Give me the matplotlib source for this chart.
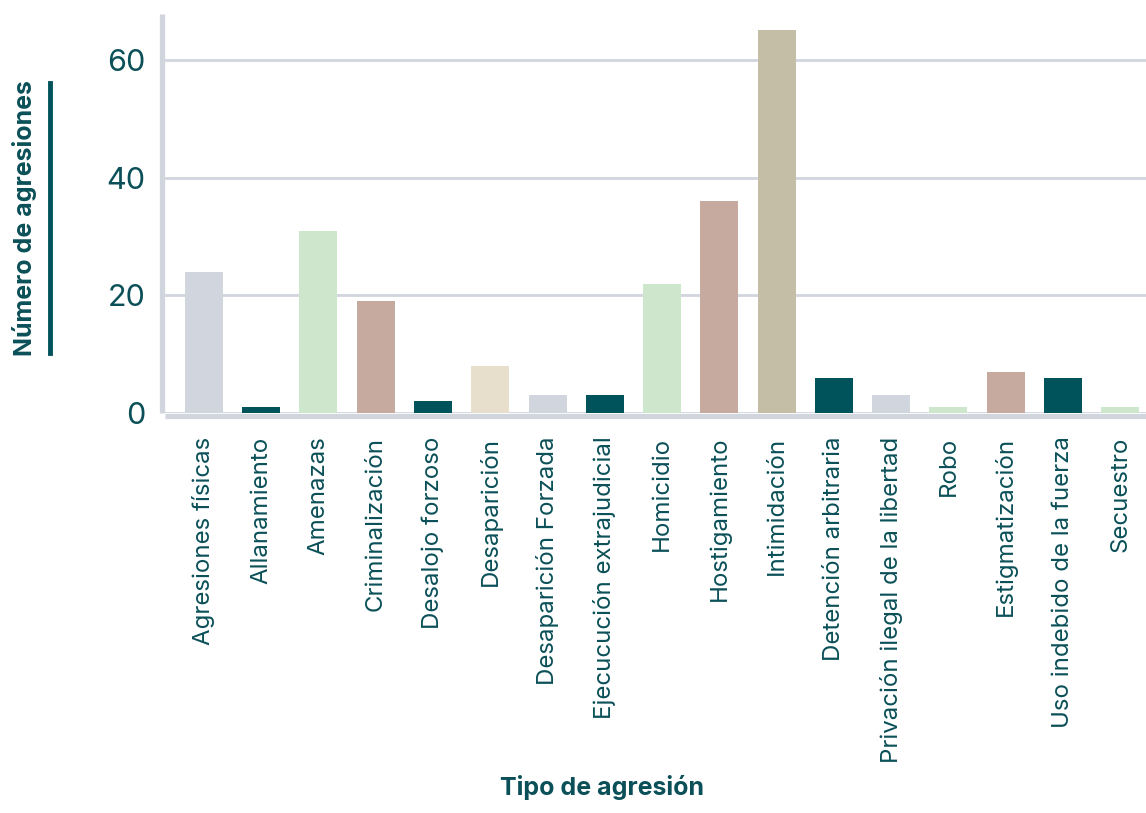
import matplotlib
matplotlib.use("Agg")
import matplotlib.pyplot as plt
from matplotlib.lines import Line2D

categorias = ["Agresiones físicas", "Allanamiento", "Amenazas", "Criminalización",
              "Desalojo forzoso", "Desaparición", "Desaparición Forzada",
              "Ejecucución extrajudicial", "Homicidio", "Hostigamiento", "Intimidación",
              "Detención arbitraria", "Privación ilegal de la libertad", "Robo",
              "Estigmatización", "Uso indebido de la fuerza", "Secuestro"]
valores = [24, 1, 31, 19, 2, 8, 3, 3, 22, 36, 65, 6, 3, 1, 7, 6, 1]
colores = ["#d1d5de", "#00525b", "#cde6cc", "#c6a99f", "#00525b", "#e7dfcc", "#d1d5de",
           "#00525b", "#cde6cc", "#c6a99f", "#c3bea5", "#00525b", "#d1d5de", "#cde6cc",
           "#c6a99f", "#00525b", "#cde6cc"]
yticks = [0, 20, 40, 60]

texto = "#0b5058"
gris = "#d1d5de"
plt.rcParams['font.family'] = ['Inter', 'DejaVu Sans']

W, H = 1146, 813
fig = plt.figure(figsize=(W / 100, H / 100), dpi=100)
ax = fig.add_axes([165 / W, 1 - 413 / H, (W - 165) / W, (413 - 14) / H])

# spines first: set_position resets the ticks
for s in ['top', 'right']:
    ax.spines[s].set_visible(False)
for s in ['left', 'bottom']:
    ax.spines[s].set_color(gris)
    ax.spines[s].set_linewidth(3.8)
    ax.spines[s].set_position(('outward', 2))
    ax.spines[s].set_capstyle('butt')

x = list(range(len(categorias)))
ax.bar(x, valores, width=0.664, color=colores, zorder=3)

ax.set_xlim(-0.68, 16.45)
ax.set_ylim(0, 67.8)
ax.set_yticks(yticks)
ax.set_yticklabels([str(v) for v in yticks], fontsize=22, color=texto)
ax.set_xticks(x)
ax.set_xticklabels(categorias, rotation=90, fontsize=17.3, color=texto)
ax.tick_params(axis='both', length=0)
ax.tick_params(axis='y', pad=12)
ax.tick_params(axis='x', pad=15)

ax.grid(axis='y', color=gris, linewidth=2, zorder=0)

fig.text(602 / W, 1 - 787 / H, "Tipo de agresión", ha='center', va='center',
         fontsize=18, fontweight='bold', color=texto)
fig.text(25 / W, 1 - 218 / H, "Número de agresiones", ha='center', va='center',
         rotation=90, fontsize=18, fontweight='bold', color=texto)
fig.add_artist(Line2D([50 / W, 50 / W], [1 - 83 / H, 1 - 353 / H],
                      color="#00525b", linewidth=3.5, transform=fig.transFigure))

fig.savefig("out.png", dpi=100)
